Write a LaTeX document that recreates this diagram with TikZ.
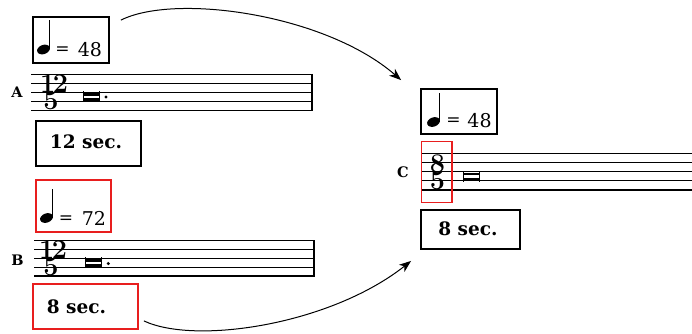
\documentclass[tikz,border=0pt]{standalone}
\usepackage{fontspec}
\usetikzlibrary{arrows.meta}
\newfontfamily\djs{DejaVu Serif}
\definecolor{mred}{RGB}{232,30,30}
\newcommand\myfs[1]{\fontsize{#1pt}{#1pt}\selectfont}
\tikzset{
  frame/.style={draw, line width=1.8pt, inner sep=0pt},
  redframe/.style={frame, draw=mred},
  staffline/.style={line width=1.1pt},
  barline/.style={line width=2pt},
  numtxt/.style={inner sep=0pt, font=\djs\myfs{19}},
  eqtxt/.style={inner sep=0pt, font=\djs\myfs{17}},
  sectxt/.style={inner sep=0pt, font=\djs\bfseries\myfs{18.5}},
  tsig/.style={inner sep=0pt, font=\bfseries\myfs{27}},
  rowlabel/.style={inner sep=0pt, font=\djs\bfseries\myfs{14.5}},
  link/.style={line width=1pt, -{Stealth[length=12pt,width=9pt,inset=3.5pt]}},
  quarter/.pic={
    \fill[rotate=20] (0,0) ellipse [x radius=6.6pt, y radius=4.6pt];
    \draw[line width=1.4pt] (5.9,-1) -- (5.9,-29.5);
  },
  brevis/.pic={
    \draw[line width=1.4pt] (-8,-5.5) -- (-8,5.5) (8,-5.5) -- (8,5.5);
    \fill (-8,-3.8) rectangle (8,-1.3);
    \fill (-8,1.3) rectangle (8,3.8);
  },
  dotnote/.style={fill, circle, inner sep=0pt, minimum size=3.4pt},
}
\begin{document}
\begin{tikzpicture}[x=1pt,y=-1pt]
\useasboundingbox (0,0) rectangle (692,333);

% ---------- A ----------
\node[frame, minimum width=76pt, minimum height=46pt] (tA) at (71,40) {};
\pic at (43.5,49.5) {quarter};
\node[eqtxt] (eqA) at (62.5,51) {=};
\node[numtxt] (numA) at (90,49.2) {48};
\foreach \y in {74.3,83.3,92.3,101.3,110.3}
  \draw[staffline] (31,\y) -- (312,\y);
\draw[barline] (312,73.8) -- (312,110.8);
\node[rowlabel] (labA) at (17,92.5) {A};
\node[tsig] (tsA1) at (54,83.5) {1\kern-2.5pt 2};
\node[tsig] (tsA2) at (51,101) {5};
\pic at (91.5,96.8) {brevis};
\node[dotnote] (dA) at (106,97) {};
\node[frame, minimum width=105pt, minimum height=45pt] (sA) at (88.5,143.5) {};
\node[sectxt] (sAt) at (86,142) {12 sec.};

% ---------- B ----------
\node[redframe, minimum width=75pt, minimum height=52pt] (tB) at (73.5,206) {};
\pic at (46.5,218) {quarter};
\node[eqtxt] (eqB) at (66,219.5) {=};
\node[numtxt] (numB) at (94,218.3) {72};
\foreach \y in {240.7,249.5,258.4,267.2,276}
  \draw[staffline] (34,\y) -- (314,\y);
\draw[barline] (314,240.2) -- (314,276.5);
\node[rowlabel] (labB) at (17.5,260.5) {B};
\node[tsig] (tsB1) at (53,249.7) {1\kern-2.5pt 2};
\node[tsig] (tsB2) at (51,266.7) {5};
\pic at (93.5,262.8) {brevis};
\node[dotnote] (dB) at (108.3,263.5) {};
\node[redframe, minimum width=105pt, minimum height=45pt] (sB) at (85.5,306.5) {};
\node[sectxt] (sBt) at (76.5,306.7) {8 sec.};

% ---------- C ----------
\node[frame, minimum width=76pt, minimum height=45pt] (tC) at (459,111.5) {};
\pic at (433.5,122) {quarter};
\node[eqtxt] (eqC) at (453.5,122) {=};
\node[numtxt] (numC) at (479.5,120.3) {48};
\foreach \y in {153.5,162.6,171.8,180.9,190}
  \draw[staffline] (422,\y) -- (692,\y);
\node[rowlabel] (labC) at (403,172) {C};
\node[tsig] (tsC1) at (437.5,163.5) {8};
\node[tsig] (tsC2) at (437.5,180.5) {5};
\node[draw=mred, line width=1.4pt, inner sep=0pt, minimum width=30.5pt, minimum height=60.5pt] (tsbox) at (436.7,172) {};
\pic at (471.5,176.5) {brevis};
\node[frame, minimum width=99pt, minimum height=39pt] (sC) at (470.5,229.5) {};
\node[sectxt] (sCt) at (468,229) {8 sec.};

% ---------- arrows ----------
\draw[link] ([shift={(11,4)}]tA.north east) .. controls (175,-7) and (325,14) .. ([shift={(-19,-8)}]tC.north west);
\draw[link] ([shift={(5,-9)}]sB.south east) .. controls (195,345) and (330,325) .. ([shift={(-9,11)}]sC.south west);
\end{tikzpicture}
\end{document}
